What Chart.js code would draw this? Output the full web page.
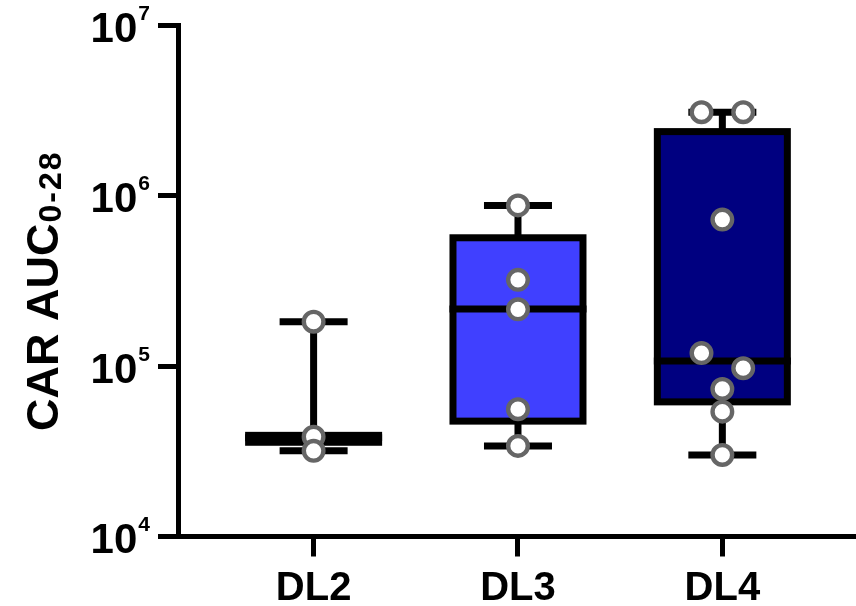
<!DOCTYPE html>
<html>
<head>
<meta charset="utf-8">
<script src="https://cdn.jsdelivr.net/npm/chart.js@4/dist/chart.umd.min.js"></script>
<style>
  html, body { margin: 0; padding: 0; background: #ffffff; }
  #wrap { width: 856px; height: 606px; }
</style>
</head>
<body>
<div id="wrap"><canvas id="chart" width="856" height="606"></canvas></div>
<script>
// Dose levels
const groups = ['DL2', 'DL3', 'DL4'];

// Box-and-whisker summaries (min to max whiskers)
const whiskerMin = [3.18e4, 3.40e4, 3.01e4];
const quartile1  = [3.57e4, 4.75e4, 6.16e4];
const medians    = [3.80e4, 2.16e5, 1.07e5];
const quartile3  = [3.92e4, 5.65e5, 2.37e6];
const whiskerMax = [1.82e5, 8.75e5, 3.08e6];

// Individual subject values
const pointsDL2 = [1.82e5, 3.85e4, 3.18e4];
const pointsDL3 = [8.75e5, 3.20e5, 2.15e5, 5.58e4, 3.40e4];
const pointsDL4 = [3.08e6, 3.08e6, 7.22e5, 1.19e5, 9.71e4, 7.34e4, 5.40e4, 3.01e4];

// Horizontal spread of overlapping points (in steps)
const jitterDL2 = [0, 0, 0];
const jitterDL3 = [0, 0, 0, 0, 0];
const jitterDL4 = [-1, 1, 0, -1, 1, 0, 0, 0];

// Axis ticks
const yTicks = [1e4, 1e5, 1e6, 1e7];

const boxColors = ['#9999FF', '#4040FF', '#000080'];
const FONT = '"Liberation Sans", Arial, Helvetica, sans-serif';
const JITTER_STEP = 0.102;

const allPoints = [pointsDL2, pointsDL3, pointsDL4];
const allJitter = [jitterDL2, jitterDL3, jitterDL4];
const scatterData = [];
allPoints.forEach((vals, g) => {
  vals.forEach((v, k) => scatterData.push({ x: g + 1 + allJitter[g][k] * JITTER_STEP, y: v }));
});

const boxData = groups.map((g, i) => ({ x: i + 1, y: [quartile1[i], quartile3[i]] }));

// Box outlines, medians, whiskers and caps, drawn over the box fills
const boxPlotPlugin = {
  id: 'boxPlotOverlay',
  afterDatasetDraw(chart, args) {
    if (args.index !== 0) return;
    const ctx = chart.ctx;
    const xs = chart.scales.x, ys = chart.scales.y;
    const meta = chart.getDatasetMeta(0);
    ctx.save();
    ctx.strokeStyle = '#000000';
    ctx.lineWidth = 7;
    ctx.lineCap = 'butt';
    ctx.lineJoin = 'miter';
    groups.forEach((g, i) => {
      const cx = xs.getPixelForValue(i + 1);
      const w = meta.data[i].width;
      const yMin = ys.getPixelForValue(whiskerMin[i]);
      const yQ1 = ys.getPixelForValue(quartile1[i]);
      const yMed = ys.getPixelForValue(medians[i]);
      const yQ3 = ys.getPixelForValue(quartile3[i]);
      const yMax = ys.getPixelForValue(whiskerMax[i]);
      const capHalf = 34;
      // whiskers
      ctx.beginPath();
      ctx.moveTo(cx, yQ3); ctx.lineTo(cx, yMax);
      ctx.moveTo(cx, yQ1); ctx.lineTo(cx, yMin);
      ctx.stroke();
      // caps
      ctx.beginPath();
      ctx.moveTo(cx - capHalf, yMax); ctx.lineTo(cx + capHalf, yMax);
      ctx.moveTo(cx - capHalf, yMin); ctx.lineTo(cx + capHalf, yMin);
      ctx.stroke();
      // box
      ctx.strokeRect(cx - w / 2, yQ3, w, yQ1 - yQ3);
      // median
      ctx.beginPath();
      ctx.moveTo(cx - w / 2 - 3.5, yMed); ctx.lineTo(cx + w / 2 + 3.5, yMed);
      ctx.stroke();
    });
    ctx.restore();
  },
  afterDraw(chart) {
    const ctx = chart.ctx;
    const ys = chart.scales.y;
    ctx.save();
    ctx.fillStyle = '#000000';
    // power-of-ten tick labels
    const rightEdge = 150;
    yTicks.forEach(v => {
      const y = ys.getPixelForValue(v);
      const exp = String(Math.round(Math.log10(v)));
      ctx.font = 'bold 21px ' + FONT;
      const supW = ctx.measureText(exp).width;
      ctx.textAlign = 'left';
      ctx.textBaseline = 'alphabetic';
      ctx.fillText(exp, rightEdge - supW, y - 5.5);
      ctx.font = 'bold 42px ' + FONT;
      ctx.textAlign = 'right';
      ctx.fillText('10', rightEdge - supW - 1, y + 16.5);
    });
    // axis title with subscript
    ctx.translate(58, 431);
    ctx.rotate(-Math.PI / 2);
    ctx.textAlign = 'left';
    ctx.textBaseline = 'alphabetic';
    ctx.font = 'bold 45px ' + FONT;
    const main = 'CAR AUC';
    ctx.fillText(main, 0, 0);
    const mw = ctx.measureText(main).width;
    ctx.font = 'bold 32px ' + FONT;
    if ('letterSpacing' in ctx) ctx.letterSpacing = '2px';
    ctx.fillText('0-28', mw + 1, 3);
    ctx.restore();
  }
};

new Chart(document.getElementById('chart'), {
  type: 'bar',
  data: {
    datasets: [
      {
        type: 'bar',
        data: boxData,
        backgroundColor: boxColors,
        borderWidth: 0,
        barThickness: 130,
        order: 2
      },
      {
        type: 'scatter',
        data: scatterData,
        pointRadius: 9.8,
        pointHoverRadius: 9.8,
        pointBorderWidth: 4.4,
        pointBackgroundColor: '#ffffff',
        pointBorderColor: '#666666',
        order: 1
      }
    ]
  },
  options: {
    responsive: false,
    animation: false,
    devicePixelRatio: 1,
    layout: { autoPadding: false, padding: { top: 25, right: 0, left: 0, bottom: 0 } },
    plugins: { legend: { display: false }, tooltip: { enabled: false } },
    scales: {
      x: {
        type: 'linear',
        min: 0.3364,
        max: 3.654,
        offset: false,
        grid: { offset: false, drawOnChartArea: false, drawTicks: true, tickLength: 20, tickWidth: 5, tickColor: '#000000' },
        border: { display: true, color: '#000000', width: 5 },
        afterBuildTicks: (scale) => { scale.ticks = groups.map((g, i) => ({ value: i + 1 })); },
        afterFit: (scale) => {
          scale.height = 69.5;
          scale.paddingLeft = 0;
          scale.paddingRight = 0;
        },
        ticks: {
          autoSkip: false,
          padding: 8,
          color: '#000000',
          font: { family: FONT, size: 40, weight: 'bold' },
          callback: (value, index) => groups[index]
        }
      },
      y: {
        type: 'logarithmic',
        min: 1e4,
        max: 1e7,
        grid: { drawOnChartArea: false, drawTicks: true, tickLength: 20, tickWidth: 5, tickColor: '#000000' },
        border: { display: true, color: '#000000', width: 5 },
        afterBuildTicks: (scale) => { scale.ticks = yTicks.map(v => ({ value: v })); },
        afterFit: (scale) => {
          scale.width = 178;
          scale.paddingTop = 0;
          scale.paddingBottom = 0;
        },
        ticks: { display: false }
      }
    }
  },
  plugins: [boxPlotPlugin]
});
</script>
</body>
</html>
